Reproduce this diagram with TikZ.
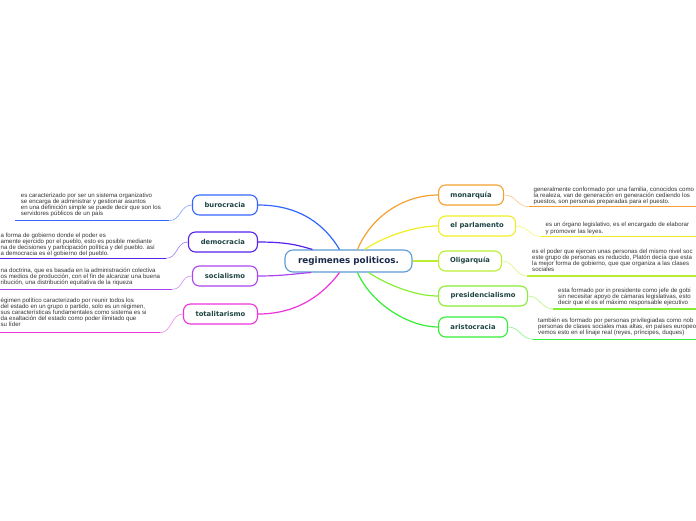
\documentclass[tikz,border=0pt]{standalone}
\usepackage{fontspec}
\setmainfont{Liberation Sans}
\newfontfamily\nodefont{DejaVu Sans}
\usetikzlibrary{calc}
\definecolor{cburo}{HTML}{3366FF}
\definecolor{cdemo}{HTML}{5522EE}
\definecolor{csoc}{HTML}{AA44EE}
\definecolor{ctot}{HTML}{EE33DD}
\definecolor{cmon}{HTML}{F5A030}
\definecolor{cparl}{HTML}{F0EE22}
\definecolor{colig}{HTML}{BBEE33}
\definecolor{cpres}{HTML}{88EE33}
\definecolor{carist}{HTML}{33EE33}
\definecolor{ccentral}{HTML}{5B9BD5}
\definecolor{topictext}{HTML}{1F4444}
\definecolor{centraltext}{HTML}{1A2A4A}
\definecolor{desctext}{HTML}{333333}
\newcommand{\fstrut}{\rule{0pt}{5pt}}
\tikzset{
  topic/.style={draw=#1, rounded corners=7pt, minimum height=20pt, inner xsep=4pt, fill=white, line width=1.1pt,
    font=\nodefont\bfseries\fontsize{6.8}{8}\selectfont, text=topictext},
  central/.style={draw=ccentral, rounded corners=8pt, minimum height=22pt, minimum width=127pt, fill=white, line width=1.1pt,
    font=\nodefont\bfseries\fontsize{8.8}{10}\selectfont, text=centraltext},
  desc/.style={align=left, inner sep=0pt, anchor=north west, font=\fontsize{6.1}{6.1}\selectfont, text=desctext},
  branch/.style={draw=#1, line width=1.2pt},
  uline/.style={draw=#1, line width=1.4pt},
  thin/.style={draw=#1!60, line width=0.6pt},
}
\begin{document}
\begin{tikzpicture}[x=1pt,y=-1pt]
\useasboundingbox (0,0) rectangle (696,520);
\clip (0,0) rectangle (696,520);

% central
\node[central] (c) at (348.5,261) {regimenes politicos.};

% left topics
\node[topic=cburo, minimum width=65pt, anchor=east] (buro) at (258,205) {burocracia};
\node[topic=cdemo, minimum width=69pt, anchor=east] (demo) at (258,242) {democracia};
\node[topic=csoc, minimum width=65pt, anchor=east] (soc) at (258,276) {socialismo};
\node[topic=ctot, minimum width=74pt, anchor=east] (tot) at (258,314) {totalitarismo};

% right topics
\node[topic=cmon, minimum width=65pt, anchor=west] (mon) at (438,195) {monarquía};
\node[topic=cparl, minimum width=77pt, anchor=west] (parl) at (438,226) {el parlamento};
\node[topic=colig, minimum width=63pt, anchor=west] (olig) at (438,261) {Oligarquía};
\node[topic=cpres, minimum width=89pt, anchor=west] (pres) at (438,296) {presidencialismo};
\node[topic=carist, minimum width=69pt, anchor=west] (arist) at (438,327) {aristocracia};

% branches
\draw[branch=cburo] (buro.east) .. controls (300,205) and (325,225) .. ($(c.north)+(-9,0)$);
\draw[branch=cdemo] (demo.east) .. controls (290,242) and (300,246) .. ($(c.north west)+(28,0)$);
\draw[branch=csoc] (soc.east) .. controls (285,276) and (300,273) .. ($(c.south west)+(27,0)$);
\draw[branch=ctot] (tot.east) .. controls (300,314) and (325,292) .. ($(c.south)+(-9,0)$);
\draw[branch=cmon] (mon.west) .. controls (405,195) and (372,215) .. ($(c.north)+(9,0)$);
\draw[branch=cparl] (parl.west) .. controls (415,226) and (385,236) .. ($(c.north)+(16,0)$);
\draw[branch=colig] (olig.west) -- (c.east);
\draw[branch=cpres] (pres.west) .. controls (415,296) and (388,285) .. ($(c.south)+(20,0)$);
\draw[branch=carist] (arist.west) .. controls (410,327) and (372,305) .. ($(c.south)+(9,0)$);

% description texts (first baseline = y + 5)
\node[desc] (tburo) at (20.7,192) {\fstrut es caracterizado por ser un sistema organizativo\\se encarga de administrar y gestionar asuntos\\en una definición simple se puede decir que son los\\servidores públicos de un país};
\node[desc] (tdemo) at (0.5,232) {\fstrut a forma de gobierno donde el poder es\\amente ejercido por el pueblo, esto es posible mediante\\na de decisiones y participación política y del pueblo. así\\a democracia es el gobierno del pueblo.};
\node[desc] (tsoc) at (0.5,267) {\fstrut na doctrina, que es basada en la administración colectiva\\os medios de producción, con el fin de alcanzar una buena\\ribución, una distribución equitativa de la riqueza};
\node[desc] (ttot) at (0.5,297) {\fstrut égimen político caracterizado por reunir todos los\\ del estado en un grupo o partido, solo es un régimen,\\sus características fundamentales como sistema es si\\da exaltación del estado como poder ilimitado que\\su líder};
\node[desc] (tmon) at (533.5,186) {\fstrut generalmente conformado por una familia, conocidos como\\la realeza, van de generación en generación cediendo los\\puestos, son personas preparadas para el puesto.};
\node[desc] (tparl) at (545.5,221.7) {\fstrut es un órgano legislativo, es el encargado de elaborar\\y promover las leyes.};
\node[desc] (tolig) at (532,248) {\fstrut es el poder que ejercen unas personas del mismo nivel soc\\este grupo de personas es reducido, Platón decía que esta\\la mejor forma de gobierno, que que organiza a las clases\\sociales};
\node[desc] (tpres) at (558,287) {\fstrut esta formado por in presidente como jefe de gobi\\sin necesitar apoyo de cámaras legislativas, esto\\decir que el es el máximo responsable ejecutivo};
\node[desc] (tarist) at (538,317) {\fstrut también es formado por personas privilegiadas como nob\\personas de clases sociales mas altas, en países europeo\\vemos esto en el linaje real (reyes, príncipes, duques)};

% underline end points
\coordinate (uburoA) at (15,220.7);   \coordinate (uburoB) at (169,220.7);
\coordinate (udemoA) at (0,258.3);    \coordinate (udemoB) at (166,258.3);
\coordinate (usocA) at (0,289.3);     \coordinate (usocB) at (172,289.3);
\coordinate (utotA) at (0,332.7);     \coordinate (utotB) at (160,332.7);
\coordinate (umonA) at (529,206.7);   \coordinate (umonB) at (696,206.7);
\coordinate (uparlA) at (541,236.5);  \coordinate (uparlB) at (696,236.5);
\coordinate (uoligA) at (527,276);    \coordinate (uoligB) at (696,276);
\coordinate (upresA) at (553,308.8);  \coordinate (upresB) at (696,308.8);
\coordinate (uaristA) at (533,339.3); \coordinate (uaristB) at (696,339.3);

\draw[uline=cburo] (uburoA) -- (uburoB);
\draw[uline=cdemo] (udemoA) -- (udemoB);
\draw[uline=csoc] (usocA) -- (usocB);
\draw[uline=ctot] (utotA) -- (utotB);
\draw[uline=cmon] (umonA) -- (umonB);
\draw[uline=cparl] (uparlA) -- (uparlB);
\draw[uline=colig] (uoligA) -- (uoligB);
\draw[uline=cpres] (upresA) -- (upresB);
\draw[uline=carist] (uaristA) -- (uaristB);

% thin connectors
\draw[thin=cburo] (buro.west) .. controls ($(buro.west)+(-12,0)$) and ($(uburoB)+(12,0)$) .. (uburoB);
\draw[thin=cdemo] (demo.west) .. controls ($(demo.west)+(-12,0)$) and ($(udemoB)+(12,0)$) .. (udemoB);
\draw[thin=csoc] (soc.west) .. controls ($(soc.west)+(-12,0)$) and ($(usocB)+(12,0)$) .. (usocB);
\draw[thin=ctot] (tot.west) .. controls ($(tot.west)+(-12,0)$) and ($(utotB)+(12,0)$) .. (utotB);
\draw[thin=cmon] (mon.east) .. controls ($(mon.east)+(12,0)$) and ($(umonA)+(-12,0)$) .. (umonA);
\draw[thin=cparl] (parl.east) .. controls ($(parl.east)+(12,0)$) and ($(uparlA)+(-12,0)$) .. (uparlA);
\draw[thin=colig] (olig.east) .. controls ($(olig.east)+(12,0)$) and ($(uoligA)+(-12,0)$) .. (uoligA);
\draw[thin=cpres] (pres.east) .. controls ($(pres.east)+(12,0)$) and ($(upresA)+(-12,0)$) .. (upresA);
\draw[thin=carist] (arist.east) .. controls ($(arist.east)+(12,0)$) and ($(uaristA)+(-12,0)$) .. (uaristA);
\end{tikzpicture}
\end{document}
